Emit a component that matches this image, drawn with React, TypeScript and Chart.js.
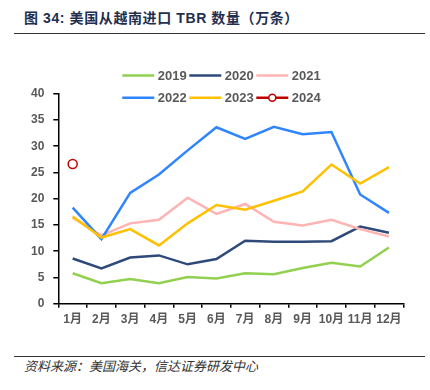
import React, { useEffect, useRef } from "react";
import { Chart, registerables } from "chart.js";

Chart.register(...registerables);

const months = ["1月", "2月", "3月", "4月", "5月", "6月", "7月", "8月", "9月", "10月", "11月", "12月"];
const yTicks = [0, 5, 10, 15, 20, 25, 30, 35, 40];
const seriesNames = ["2019", "2020", "2021", "2022", "2023", "2024"];
const s2019 = [5.8, 3.9, 4.7, 3.9, 5.1, 4.8, 5.8, 5.6, 6.8, 7.8, 7.1, 10.7];
const s2020 = [8.6, 6.7, 8.8, 9.2, 7.5, 8.5, 12.0, 11.8, 11.8, 11.9, 14.7, 13.5];
const s2021 = [16.4, 13.0, 15.3, 16.0, 20.2, 17.1, 19.0, 15.6, 14.9, 16.0, 14.2, 12.8];
const s2022 = [18.3, 12.3, 21.1, 24.6, 29.2, 33.6, 31.4, 33.7, 32.3, 32.7, 20.8, 17.3];
const s2023 = [16.6, 12.6, 14.2, 11.1, 15.3, 18.8, 17.9, 19.6, 21.4, 26.5, 22.9, 26.0];
const s2024 = [26.6, null, null, null, null, null, null, null, null, null, null, null];
const seriesColors = ["#92D050", "#2E4A7A", "#FFB3B3", "#2F84FF", "#FFC000", "#C00000"];

const FONT = '"Liberation Sans", Arial, "Noto Sans CJK SC", sans-serif';
const CJK = '"Noto Sans CJK SC", "Liberation Sans", sans-serif';

const customLegend = {
  id: "customLegend",
  afterDraw(chart: any) {
    const ctx = chart.ctx;
    const ca = chart.chartArea;
    ctx.save();
    ctx.font = `bold 13px ${FONT}`;
    ctx.textBaseline = "middle";
    ctx.textAlign = "left";
    const startX = ca.left + 64;
    const rowsY = [35.5, 57.8];
    const lineLen = 32;
    chart.data.datasets.forEach((ds: any, i: number) => {
      const row = Math.floor(i / 3);
      const col = i % 3;
      const x = startX + col * 67;
      const y = rowsY[row];
      ctx.strokeStyle = ds.borderColor;
      ctx.lineWidth = 2.5;
      ctx.beginPath();
      ctx.moveTo(x, y);
      ctx.lineTo(x + lineLen, y);
      ctx.stroke();
      if (ds.pointRadius > 0) {
        ctx.fillStyle = "#ffffff";
        ctx.lineWidth = 1.5;
        ctx.beginPath();
        ctx.arc(x + lineLen / 2, y, 3.5, 0, Math.PI * 2);
        ctx.fill();
        ctx.stroke();
      }
      ctx.fillStyle = "#595959";
      ctx.fillText(ds.label, x + lineLen + 3.5, y + 0.5);
    });
    ctx.restore();
  },
};

export default function App() {
  const ref = useRef<HTMLCanvasElement | null>(null);
  useEffect(() => {
    if (!ref.current) return;
    const all = [s2019, s2020, s2021, s2022, s2023, s2024];
    const chart = new Chart(ref.current, {
      type: "line",
      data: {
        labels: months,
        datasets: all.map((d, i) => ({
          label: seriesNames[i],
          data: d,
          borderColor: seriesColors[i],
          backgroundColor: i === 5 ? "rgba(255,255,255,0)" : seriesColors[i],
          borderWidth: 2.5,
          tension: 0,
          pointRadius: i === 5 ? 4.5 : 0,
          pointHoverRadius: i === 5 ? 4.5 : 0,
          pointBorderWidth: 1.5,
          pointBorderColor: seriesColors[i],
          pointBackgroundColor: "rgba(255,255,255,0)",
          order: 6 - i,
          spanGaps: false,
        })),
      },
      options: {
        animation: false,
        responsive: false,
        maintainAspectRatio: false,
        layout: { padding: { top: 53.7, right: 26.7, left: 0, bottom: 0 } },
        plugins: {
          legend: { display: false },
          tooltip: { enabled: false },
          title: { display: false },
        },
        scales: {
          x: {
            type: "category",
            offset: true,
            grid: {
              display: true,
              drawOnChartArea: false,
              drawTicks: true,
              tickLength: 4,
              color: "#000000",
              lineWidth: 1.5,
              offset: true,
            },
            border: { display: true, color: "#000000", width: 1.5 },
            ticks: {
              color: "#595959",
              font: { family: FONT, size: 12, weight: "bold" },
              padding: 5,
              maxRotation: 0,
              autoSkip: false,
            },
            afterFit: (s: any) => {
              s.height = 26.3;
            },
          },
          y: {
            min: 0,
            max: 40,
            afterBuildTicks: (s: any) => {
              s.ticks = yTicks.map((v) => ({ value: v }));
            },
            grid: {
              display: true,
              drawOnChartArea: false,
              drawTicks: true,
              tickLength: 5,
              color: "#000000",
              lineWidth: 1.5,
            },
            border: { display: true, color: "#000000", width: 1.5 },
            ticks: {
              color: "#595959",
              font: { family: FONT, size: 12, weight: "bold" },
              padding: 9,
            },
            afterFit: (s: any) => {
              s.width = 58.3;
            },
          },
        },
      },
      plugins: [customLegend],
    });
    return () => chart.destroy();
  }, []);

  return (
    <div style={{ position: "absolute", left: 0, top: 0, width: 430, height: 390, background: "#fff", overflow: "hidden" }}>
      <div
        style={{
          position: "absolute",
          left: 24,
          top: 8,
          fontFamily: FONT,
          fontWeight: "bold",
          fontSize: 14,
          lineHeight: "20px",
          letterSpacing: "0.6px",
          color: "#1F2F4F",
          whiteSpace: "nowrap",
        }}
      >
        图 34: 美国从越南进口 TBR 数量（万条）
      </div>
      <div style={{ position: "absolute", left: 14, top: 32.5, width: 411, height: 1.5, background: "#333333" }} />
      <div style={{ position: "absolute", left: 0, top: 40, width: 430, height: 290 }}>
        <canvas ref={ref} width={430} height={290} style={{ width: 430, height: 290, display: "block" }} />
      </div>
      <div style={{ position: "absolute", left: 14, top: 355.5, width: 411, height: 1.2, background: "#333333" }} />
      <div
        style={{
          position: "absolute",
          left: 24,
          top: 358,
          fontFamily: CJK,
          fontStyle: "italic",
          fontSize: 13,
          lineHeight: "16px",
          color: "#333333",
          whiteSpace: "nowrap",
        }}
      >
        资料来源：美国海关，信达证券研发中心
      </div>
    </div>
  );
}
